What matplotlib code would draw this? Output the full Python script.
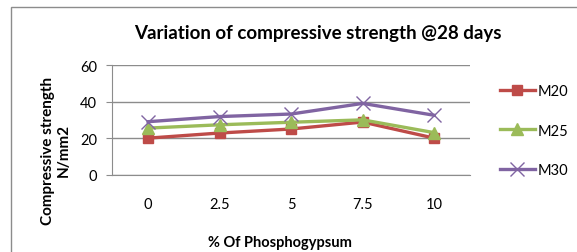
import numpy as np
import matplotlib.pyplot as plt
from matplotlib.patches import Rectangle

# donnees
categories = ['0', '2.5', '5', '7.5', '10']
m20 = [20, 22.8, 25, 28.8, 20]
m25 = [25.5, 27.3, 28.7, 30, 23]
m30 = [29, 31.8, 33.2, 39, 32.5]
series_names = ['M20', 'M25', 'M30']

plt.rcParams['font.family'] = ['Lato', 'DejaVu Sans']

fig = plt.figure(figsize=(5.77, 2.53), dpi=100)
ax = fig.add_axes([0.1946, 0.3055, 0.62, 0.4336])

# cadre exterieur
fig.patches.append(Rectangle((11.5 / 577, -0.1), 1.2, (253 - 7.5) / 253 + 0.1,
                             transform=fig.transFigure, fill=False,
                             edgecolor='#8c8c8c', linewidth=1.0))

x = np.arange(len(categories))
ax.plot(x, m20, color='#BE4B48', lw=2.4, marker='s', ms=7, label=series_names[0])
ax.plot(x, m25, color='#9BBB59', lw=2.4, marker='^', ms=8, label=series_names[1])
ax.plot(x, m30, color='#8064A2', lw=2.4, marker='x', ms=10, mew=1.0, label=series_names[2])

ax.set_xlim(-0.5, 4.5)
ax.set_ylim(0, 60)
ax.set_yticks([0, 20, 40, 60])
ax.set_xticks(x)
ax.set_xticklabels(categories)
ax.yaxis.grid(True, color='#8c8c8c', lw=1.0)
ax.set_axisbelow(True)
for s in ['top', 'right']:
    ax.spines[s].set_visible(False)
ax.spines['left'].set_color('#8c8c8c')
ax.spines['bottom'].set_color('#8c8c8c')
ax.tick_params(axis='y', length=4, color='#8c8c8c', pad=7, labelsize=10.5)
ax.tick_params(axis='x', length=0, pad=16, labelsize=10.5)

fig.text(0.551, 0.869, 'Variation of compressive strength @28 days',
         ha='center', va='center', fontsize=13.5, fontweight='bold')
fig.text(0.097, 0.405, 'Compressive strength\nN/mm2', rotation=90,
         ha='center', va='center', fontsize=11, fontweight='bold', linespacing=1.15)
fig.text(0.485, 0.04, '% Of Phosphogypsum', ha='center', va='center',
         fontsize=10.5, fontweight='bold')

ax.legend(loc='center left', bbox_to_anchor=(0.866, 0.48), bbox_transform=fig.transFigure,
          frameon=False, borderpad=0, borderaxespad=0, handlelength=2.4,
          handletextpad=0.2, labelspacing=1.75, fontsize=10.5)

fig.savefig('out.png', dpi=100)
